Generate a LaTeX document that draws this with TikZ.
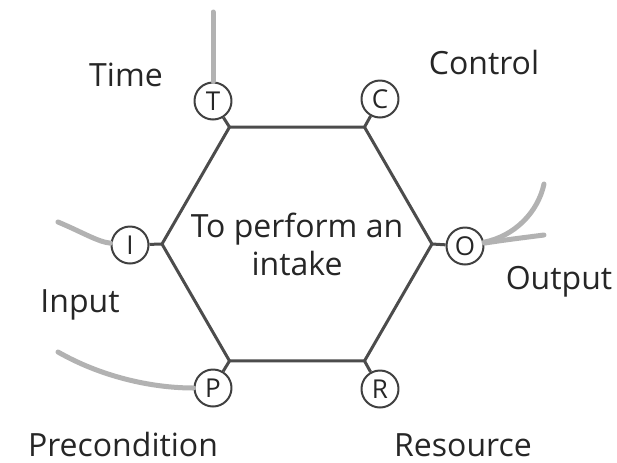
\documentclass[tikz,border=0pt]{standalone}
\usepackage{fontspec}
\setmainfont{Open Sans}
\usetikzlibrary{shapes.geometric}

\tikzset{
  aspect/.style={circle, draw=black!75, line width=1pt, inner sep=0pt,
    minimum size=18.5pt, text=black!85, font=\fontsize{13}{13}\selectfont},
  aspectname/.style={text=black!85, font=\fontsize{16}{19}\selectfont},
  stub/.style={draw=black!70, line width=1.5pt},
  link/.style={draw=black!30, line width=2.5pt, line cap=round},
}

\begin{document}
\begin{tikzpicture}[x=0.5pt, y=-0.5pt, line join=round]
    % frame, in pixels of the original (y grows downwards)
    \useasboundingbox (0,0) rectangle (617,462);

    % function
    \node[regular polygon, regular polygon sides=6, draw=black!70, line width=1.5pt,
          minimum size=135pt, inner sep=0pt, outer sep=0pt] (hex) at (297,244) {};
    \node[aspectname, align=center] (func) at (hex.center) {To perform an\\intake};

    % the six aspects
    \node[aspect] (T) at (213,101) {T};
    \node[aspect] (C) at (380,99)  {C};
    \node[aspect] (I) at (130,245) {I};
    \node[aspect] (O) at (465,246) {O};
    \node[aspect] (P) at (213,388) {P};
    \node[aspect] (R) at (380,389) {R};

    % stubs from the corners
    \draw[stub] (hex.120) -- (T);
    \draw[stub] (hex.60)  -- (C);
    \draw[stub] (hex.180) -- (I);
    \draw[stub] (hex.0)   -- (O);
    \draw[stub] (hex.240) -- (P);
    \draw[stub] (hex.300) -- (R);

    % couplings to other functions (cut)
    \coordinate (tEnd)  at (213,12);
    \coordinate (iEnd)  at (58,222);
    \coordinate (oEndA) at (544,184);
    \coordinate (oEndB) at (544,235);
    \coordinate (pEnd)  at (58,352);
    \draw[link] (tEnd) -- (T);
    \draw[link] (iEnd) .. controls (82,232) and (98,242) .. (I);
    \draw[link] (O) .. controls (515,236) and (538,212) .. (oEndA);
    \draw[link] (O) .. controls (505,240) .. (oEndB);
    \draw[link] (pEnd) .. controls (100,376) and (150,388) .. (P);

    % aspect names
    \node[aspectname] (timeL)  at (126,75)  {Time};
    \node[aspectname] (ctrlL)  at (484,62)  {Control};
    \node[aspectname] (inL)    at (80,305)  {Input};
    \node[aspectname] (outL)   at (559,282) {Output};
    \node[aspectname] (preL)   at (123,444) {Precondition};
    \node[aspectname] (resL)   at (463,445) {Resource};
\end{tikzpicture}
\end{document}
